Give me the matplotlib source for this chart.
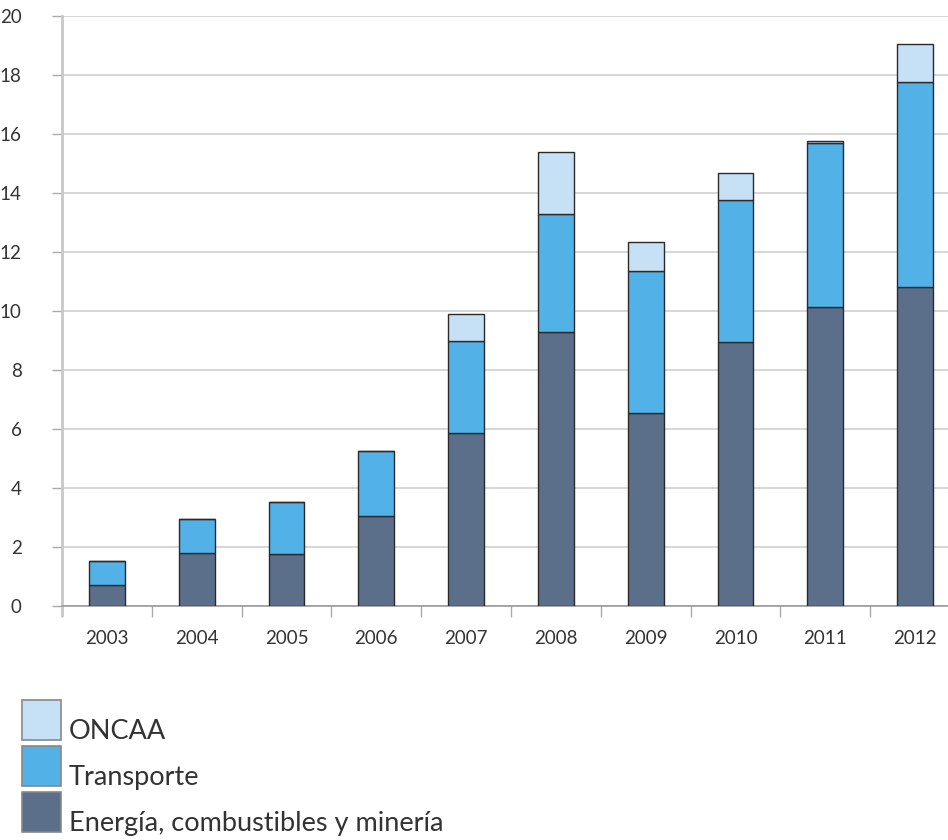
import matplotlib
matplotlib.use("Agg")
import matplotlib.pyplot as plt
from matplotlib.patches import Rectangle
import numpy as np

years = ["2003", "2004", "2005", "2006", "2007", "2008", "2009", "2010", "2011", "2012"]
energia = [0.7, 1.8, 1.75, 3.05, 5.85, 9.3, 6.55, 8.95, 10.15, 10.8]
transporte = [0.82, 1.15, 1.77, 2.2, 3.15, 4.0, 4.8, 4.8, 5.55, 6.95]
oncaa = [0.0, 0.0, 0.0, 0.0, 0.9, 2.1, 1.0, 0.92, 0.07, 1.3]

series_labels = ["ONCAA", "Transporte", "Energía, combustibles y minería"]
colors = {"ONCAA": "#C6E0F5", "Transporte": "#52B1E6", "Energía, combustibles y minería": "#5B6F8A"}
yticks = [0, 2, 4, 6, 8, 10, 12, 14, 16, 18, 20]

plt.rcParams['font.family'] = ['Lato', 'DejaVu Sans']

W, H = 948, 840
fig = plt.figure(figsize=(W / 100, H / 100), dpi=100)
left_px, right_px, top_px, bot_px = 62, 960, 16, 606
ax = fig.add_axes([left_px / W, (H - bot_px) / H, (right_px - left_px) / W, (bot_px - top_px) / H])

x = np.arange(len(years))
bw = 0.4
e = np.array(energia)
t = np.array(transporte)
o = np.array(oncaa)
ax.bar(x, e, bw, color=colors[series_labels[2]], edgecolor="#2a2a2a", linewidth=1, zorder=3)
ax.bar(x, t, bw, bottom=e, color=colors[series_labels[1]], edgecolor="#2a2a2a", linewidth=1, zorder=3)
ax.bar(x, o, bw, bottom=e + t, color=colors[series_labels[0]], edgecolor="#2a2a2a", linewidth=1, zorder=3)

ax.set_xlim(-0.5, len(years) - 0.5)
ax.set_ylim(0, 20)
ax.set_yticks(yticks)
ax.set_yticklabels([str(v) for v in yticks], fontsize=13.5, color="#333333")
ax.yaxis.grid(True, color="#d3d3d3", linewidth=1.3, zorder=0)
ax.set_axisbelow(True)
ax.tick_params(axis="y", length=7, width=1, color="#aaaaaa", pad=22)

ax.set_xticks(x)
ax.set_xticklabels(years, fontsize=13.5, color="#333333")
ax.set_xticks(np.arange(len(years) + 1) - 0.5, minor=True)
ax.tick_params(axis="x", which="major", length=0, pad=17)
ax.tick_params(axis="x", which="minor", length=8, width=1, color="#aaaaaa")

for s in ["top", "right"]:
    ax.spines[s].set_visible(False)
ax.spines["left"].set_color("#c8c8c8")
ax.spines["left"].set_linewidth(2)
ax.spines["left"].set_bounds(-0.3, 20)
ax.spines["bottom"].set_color("#999999")
ax.spines["bottom"].set_linewidth(1.2)

# legend
box_x, box_w = 22, 39
tops = [700, 746, 792]
for lab, tp in zip(series_labels, tops):
    fig.patches.append(Rectangle((box_x / W, (H - tp - 40) / H), box_w / W, 40 / H,
                                 transform=fig.transFigure, facecolor=colors[lab],
                                 edgecolor="#888888", linewidth=1.2))
    fig.text(69 / W, (H - tp - 39) / H, lab, fontsize=19.5, color="#333333",
             ha="left", va="baseline")

fig.savefig("out.png", dpi=100)
